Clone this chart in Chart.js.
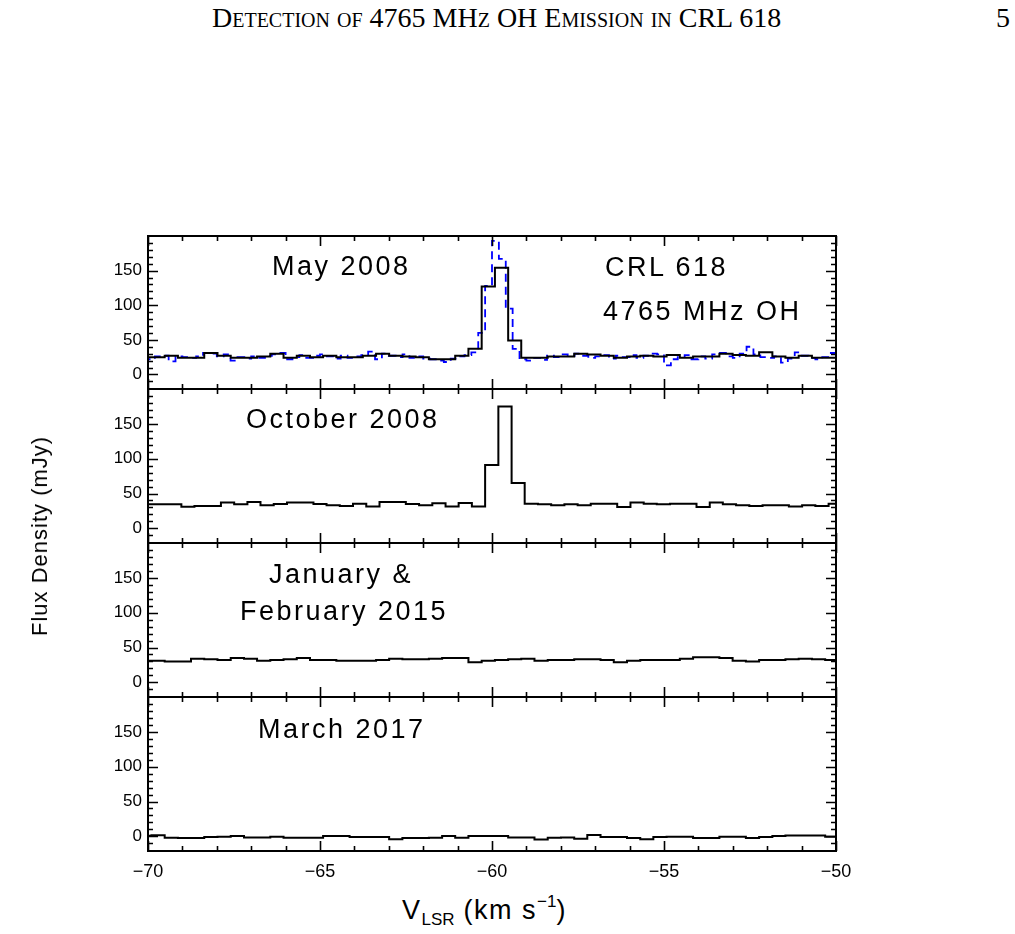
<!DOCTYPE html>
<html lang="en">
<head>
<meta charset="UTF-8">
<title>CRL 618 4765 MHz OH spectra</title>
<script src="https://cdn.jsdelivr.net/npm/chart.js"></script>
<style>
  body { margin:0; background:#fff; width:1015px; height:934px; position:relative; overflow:hidden;
         font-family:'Liberation Sans', Arial, sans-serif; color:#000; }
  canvas { position:absolute; left:0; }
  .lbl { position:absolute; white-space:nowrap; font-size:27px; letter-spacing:2.5px; line-height:1; }
  .hdr { position:absolute; top:4px; white-space:nowrap; font-family:'Liberation Serif', serif; font-size:28px; line-height:1; }
  .ytitle { position:absolute; left:40px; top:536px; white-space:nowrap; font-size:22px; letter-spacing:1px; line-height:1;
            transform:translate(-50%,-50%) rotate(-90deg); }
  .xtitle { position:absolute; left:402px; top:893px; white-space:nowrap; font-size:27px; letter-spacing:1.5px; line-height:1; }
  .xtitle sub { font-size:17px; letter-spacing:0; vertical-align:-6px; }
  .xtitle sup { font-size:17px; letter-spacing:0; vertical-align:12px; }
</style>
</head>
<body>
  <div class="hdr" style="left:212px; font-variant:small-caps;">Detection of 4765 MHz OH Emission in CRL 618</div>
  <div class="hdr" style="left:996px;">5</div>

  <canvas id="p1" width="900" height="161" style="top:232px"></canvas>
  <canvas id="p2" width="900" height="162" style="top:385px"></canvas>
  <canvas id="p3" width="900" height="162" style="top:539px"></canvas>
  <canvas id="p4" width="900" height="198" style="top:693px"></canvas>

  <div class="lbl" style="left:272px; top:253px;">May 2008</div>
  <div class="lbl" style="left:605px; top:254px;">CRL 618</div>
  <div class="lbl" style="left:603px; top:298px;">4765 MHz OH</div>
  <div class="lbl" style="left:246px; top:406px;">October 2008</div>
  <div class="lbl" style="left:269px; top:561px;">January &amp;</div>
  <div class="lbl" style="left:240px; top:598px;">February 2015</div>
  <div class="lbl" style="left:258px; top:716px;">March 2017</div>

  <div class="ytitle">Flux Density (mJy)</div>
  <div class="xtitle">V<sub>LSR</sub> (km s<sup>&minus;1</sup>)</div>

<script>
// channel velocities (km/s)
const velA = [-70.09,-69.71,-69.32,-68.94,-68.56,-68.17,-67.79,-67.40,-67.02,-66.64,
              -66.25,-65.87,-65.48,-65.10,-64.72,-64.33,-63.95,-63.56,-63.18,-62.80,
              -62.41,-62.03,-61.64,-61.26,-60.88,-60.49,-60.11,-59.72,-59.34,-58.96,
              -58.57,-58.19,-57.80,-57.42,-57.04,-56.65,-56.27,-55.88,-55.50,-55.12,
              -54.73,-54.35,-53.96,-53.58,-53.20,-52.81,-52.43,-52.04,-51.66,-51.28,
              -50.89,-50.51,-50.12,-49.74];
const velB = [-70.38,-69.99,-69.61,-69.22,-68.84,-68.46,-68.07,-67.69,-67.30,-66.92,
              -66.54,-66.15,-65.77,-65.38,-65.00,-64.62,-64.23,-63.85,-63.46,-63.08,
              -62.70,-62.31,-61.93,-61.54,-61.16,-60.78,-60.39,-60.01,-59.62,-59.24,
              -58.86,-58.47,-58.09,-57.70,-57.32,-56.94,-56.55,-56.17,-55.78,-55.40,
              -55.02,-54.63,-54.25,-53.86,-53.48,-53.10,-52.71,-52.33,-51.94,-51.56,
              -51.18,-50.79,-50.41,-50.02,-49.64];
const velHi = [-70.1,-69.9,-69.7,-69.5,-69.3,-69.1,-68.9,-68.7,-68.5,-68.3,
               -68.1,-67.9,-67.7,-67.5,-67.3,-67.1,-66.9,-66.7,-66.5,-66.3,
               -66.1,-65.9,-65.7,-65.5,-65.3,-65.1,-64.9,-64.7,-64.5,-64.3,
               -64.1,-63.9,-63.7,-63.5,-63.3,-63.1,-62.9,-62.7,-62.5,-62.3,
               -62.1,-61.9,-61.7,-61.5,-61.3,-61.1,-60.9,-60.7,-60.5,-60.3,
               -60.1,-59.9,-59.7,-59.5,-59.3,-59.1,-58.9,-58.7,-58.5,-58.3,
               -58.1,-57.9,-57.7,-57.5,-57.3,-57.1,-56.9,-56.7,-56.5,-56.3,
               -56.1,-55.9,-55.7,-55.5,-55.3,-55.1,-54.9,-54.7,-54.5,-54.3,
               -54.1,-53.9,-53.7,-53.5,-53.3,-53.1,-52.9,-52.7,-52.5,-52.3,
               -52.1,-51.9,-51.7,-51.5,-51.3,-51.1,-50.9,-50.7,-50.5,-50.3,
               -50.1,-49.9];

// flux density (mJy)
const may08 = [25,25,27,24,24,31,27,24,24,26,
               30,24,27,25,27,25,25,27,30,27,
               26,25,22,22,27,37,127,154,49,24,
               24,26,26,30,29,27,24,26,27,26,
               28,24,26,26,30,28,27,32,26,24,
               27,24,24,27];
const may08hi = [25,22,26,27,19,26,25,24,26,31,
                 30,26,29,20,25,23,26,24,27,29,
                 31,22,25,28,24,27,29,26,23,27,
                 24,26,28,33,22,30,27,25,29,24,
                 26,23,22,20,18,23,26,28,32,60,
                 128,193,167,95,37,22,20,24,21,27,
                 25,29,27,30,27,24,26,28,23,27,
                 25,28,24,27,30,29,13,22,25,28,
                 22,26,23,29,31,26,24,30,40,29,
                 25,24,26,17,23,32,27,24,22,25,
                 31,33];
const oct08 = [34,34.5,34.5,34.5,31,32,32,37,34.5,38,
               33,35,37,37,35,33,32,35.5,31.5,38,
               38,35,33,36,31.5,36.5,31.5,91,175,65,
               35.5,34.5,33,34.5,33,35.5,35.5,30.7,37,35.5,
               34.5,35.5,35.5,30.7,37,34.5,33,32,33,33,
               31.5,33,32,35.5,34];
const jan15 = [31,31,30,30,34,33,32,35,34,31,
               32,33,35,32,32,31,31,31,32,34,
               33,33,34,35,35,29,31,32,33,34,
               31,32,32,33,33,32,29,31,32,32,
               32,34,36,36,35,31,30,32,32,33,
               34,33,32,32];
const mar17 = [1,1.5,-2,-2.5,-2.5,-1,-0.5,0.5,-1.5,-1.5,
               -0.5,-2,-2,-2,0.5,0.5,-1,-1,-1,-4,
               -2.5,-2.5,-2,0.5,-2,0.5,0.5,0.5,-1.5,-1.5,
               -4.5,-2,-1.5,-3.5,2,-1,-1,-2.5,-4.3,-1,
               -0.5,-0.5,-2.5,-2.5,-0.5,-0.5,-2.5,-1,0.5,1.4,
               1.4,1.4,-0.5,-0.5];

const xTicks = [-70,-65,-60,-55,-50];
const yTicks = [0,50,100,150];

const fontFam = "'Liberation Sans', Arial, sans-serif";

// box round each panel, ticks pointing inward (minor every 1 km/s and 10 mJy)
const frameTicks = {
  id:'frameTicks',
  afterDatasetsDraw(chart) {
    const {ctx, chartArea:a, scales:{x, y}} = chart;
    ctx.save();
    ctx.strokeStyle = '#000';
    ctx.lineWidth = 1.6;
    ctx.beginPath();
    for (let v = -70; v <= -50; v++) {
      const px = Math.round(x.getPixelForValue(v)) + 0.5;
      const len = v % 5 === 0 ? 10 : 5;
      ctx.moveTo(px, a.top); ctx.lineTo(px, a.top + len);
      ctx.moveTo(px, a.bottom); ctx.lineTo(px, a.bottom - len);
    }
    for (let v = -10; v < 200; v += 10) {
      const py = Math.round(y.getPixelForValue(v)) + 0.5;
      const len = v % 50 === 0 ? 10 : 5;
      ctx.moveTo(a.left, py); ctx.lineTo(a.left + len, py);
      ctx.moveTo(a.right, py); ctx.lineTo(a.right - len, py);
    }
    ctx.stroke();
    ctx.lineWidth = 2;
    ctx.strokeRect(a.left, a.top, a.right - a.left, a.bottom - a.top);
    ctx.restore();
  }
};

function spec(vel, flux, opts) {
  return Object.assign({
    data: vel.map((v, i) => ({x:v, y:flux[i]})),
    borderColor:'#000', borderWidth:2, stepped:'middle', pointRadius:0, fill:false
  }, opts || {});
}

function panel(id, datasets, showX) {
  return new Chart(document.getElementById(id), {
    type:'line',
    data:{datasets},
    options:{
      responsive:false, animation:false, events:[],
      layout:{padding:{top:4, bottom:showX ? 0 : 4, left:0, right:64}},
      plugins:{legend:{display:false}, tooltip:{enabled:false}},
      scales:{
        x:{type:'linear', min:-70, max:-50, display:showX,
           grid:{display:false, drawTicks:false}, border:{display:false},
           afterBuildTicks:s => { s.ticks = xTicks.map(v => ({value:v})); },
           afterFit:s => { s.height = showX ? 40 : 0; s.paddingLeft = 0; s.paddingRight = 0; },
           ticks:{font:{family:fontFam, size:18}, color:'#000', padding:10, maxRotation:0,
                  callback:v => String(v).replace('-', '\u2212')}},
        y:{type:'linear', min:-21, max:200,
           grid:{display:false, drawTicks:false}, border:{display:false},
           afterBuildTicks:s => { s.ticks = yTicks.map(v => ({value:v})); },
           afterFit:s => { s.width = 148; s.paddingTop = 0; s.paddingBottom = 0; },
           ticks:{font:{family:fontFam, size:17}, color:'#000', padding:6}}
      }
    },
    plugins:[frameTicks]
  });
}

panel('p1', [
  spec(velA, may08),
  spec(velHi, may08hi, {borderColor:'#0000ff', borderWidth:1.8, borderDash:[8,5]})
], false);
panel('p2', [spec(velB, oct08)], false);
panel('p3', [spec(velA, jan15)], false);
panel('p4', [spec(velA, mar17)], true);
</script>
</body>
</html>
